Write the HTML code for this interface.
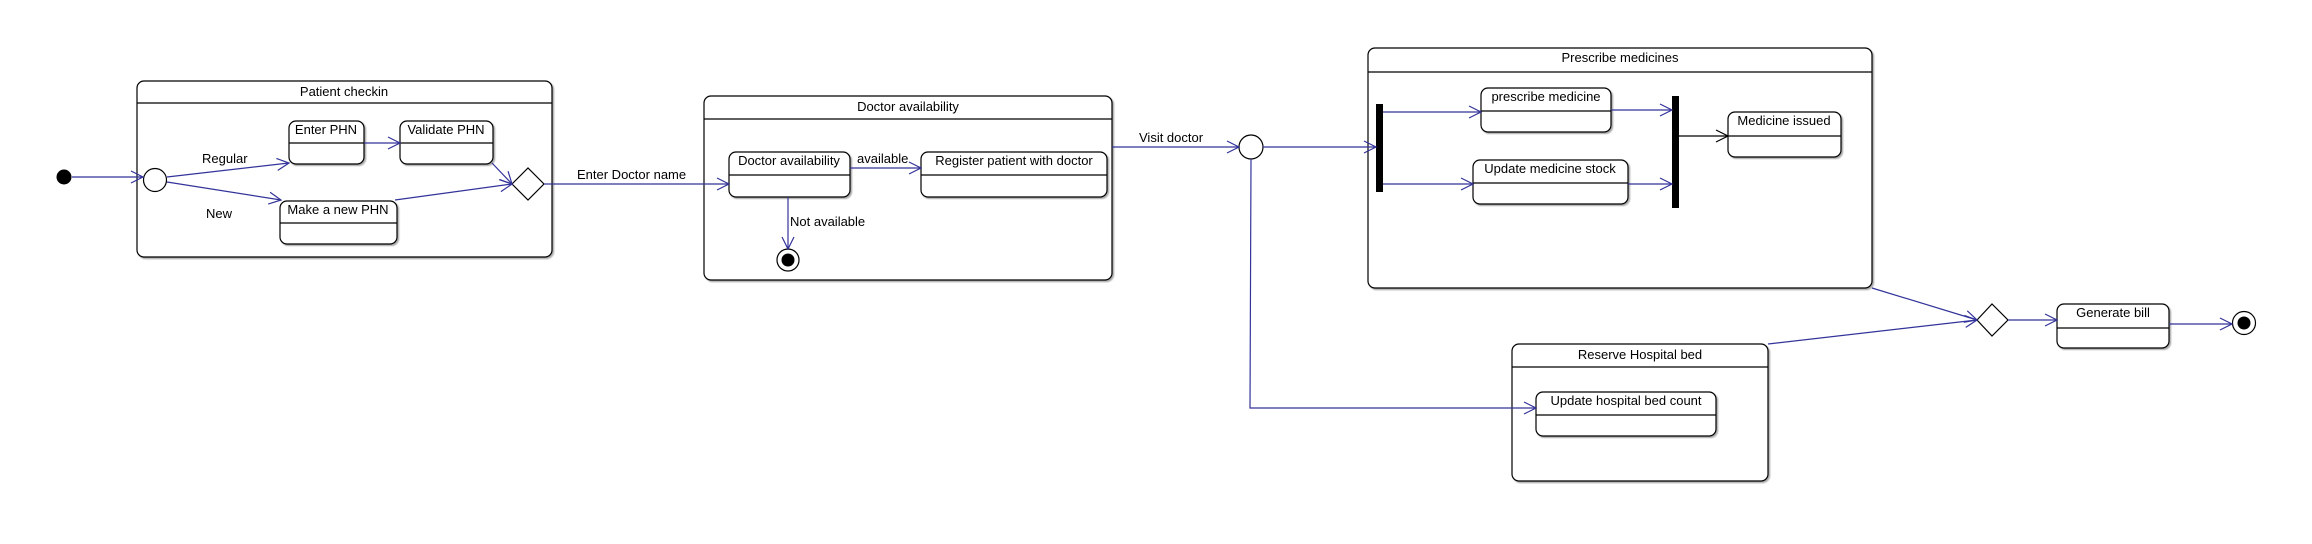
<!DOCTYPE html>
<html><head><meta charset="utf-8"><style>
html,body{margin:0;padding:0;background:#fff;}
svg{display:block;}
text{font-family:"Liberation Sans","DejaVu Sans",sans-serif;font-size:13px;fill:#000;}
.b{fill:#fff;stroke:#000;stroke-width:1.2;}
.l{stroke:#33339a;stroke-width:1.2;fill:none;}
.k{stroke:#000;stroke-width:1.2;fill:none;}
</style></head><body>
<svg width="2312" height="544" viewBox="0 0 2312 544" xmlns="http://www.w3.org/2000/svg">
<defs>
<marker id="a" markerUnits="userSpaceOnUse" markerWidth="16" markerHeight="14" refX="13" refY="7" orient="auto"><path d="M1,1 L13,7 L1,13" fill="none" stroke="#33339a" stroke-width="1.2"/></marker>
<marker id="ak" markerUnits="userSpaceOnUse" markerWidth="16" markerHeight="14" refX="13" refY="7" orient="auto"><path d="M1,1 L13,7 L1,13" fill="none" stroke="#000" stroke-width="1.2"/></marker>
<filter id="s" x="-5%" y="-5%" width="110%" height="110%"><feDropShadow dx="1.5" dy="1.5" stdDeviation="0.8" flood-color="#000" flood-opacity="0.35"/></filter>
</defs>

<!-- Patient checkin -->
<rect class="b" x="137" y="81" width="415" height="176" rx="7" filter="url(#s)"/>
<line class="k" x1="137" y1="103" x2="552" y2="103"/>
<text x="344" y="96" text-anchor="middle">Patient checkin</text>
<circle cx="64" cy="177" r="7.5" fill="#000"/>
<circle class="b" cx="155" cy="180" r="11.5"/>
<rect class="b" x="289" y="121" width="75" height="43" rx="7" filter="url(#s)"/>
<line class="k" x1="289" y1="143" x2="364" y2="143"/>
<text x="326" y="134" text-anchor="middle">Enter PHN</text>
<rect class="b" x="400" y="121" width="93" height="43" rx="7" filter="url(#s)"/>
<line class="k" x1="400" y1="143" x2="493" y2="143"/>
<text x="446" y="134" text-anchor="middle">Validate PHN</text>
<rect class="b" x="280" y="201" width="117" height="43" rx="7" filter="url(#s)"/>
<line class="k" x1="280" y1="223" x2="397" y2="223"/>
<text x="338" y="214" text-anchor="middle">Make a new PHN</text>
<polygon class="b" points="512,184 528,168 544,184 528,200"/>
<text x="202" y="163">Regular</text>
<text x="206" y="218">New</text>

<!-- Doctor availability -->
<rect class="b" x="704" y="96" width="408" height="184" rx="7" filter="url(#s)"/>
<line class="k" x1="704" y1="119" x2="1112" y2="119"/>
<text x="908" y="111" text-anchor="middle">Doctor availability</text>
<rect class="b" x="729" y="152" width="121" height="45" rx="7" filter="url(#s)"/>
<line class="k" x1="729" y1="175" x2="850" y2="175"/>
<text x="789" y="165" text-anchor="middle">Doctor availability</text>
<rect class="b" x="921" y="152" width="186" height="45" rx="7" filter="url(#s)"/>
<line class="k" x1="921" y1="175" x2="1107" y2="175"/>
<text x="1014" y="165" text-anchor="middle">Register patient with doctor</text>
<text x="857" y="163">available</text>
<text x="790" y="226">Not available</text>
<circle class="b" cx="788" cy="260" r="11"/>
<circle cx="788" cy="260" r="6.5" fill="#000"/>
<text x="577" y="179">Enter Doctor name</text>
<text x="1139" y="142">Visit doctor</text>
<circle class="b" cx="1251" cy="147" r="12"/>

<!-- Prescribe medicines -->
<rect class="b" x="1368" y="48" width="504" height="240" rx="7" filter="url(#s)"/>
<line class="k" x1="1368" y1="72" x2="1872" y2="72"/>
<text x="1620" y="62" text-anchor="middle">Prescribe medicines</text>
<rect x="1376" y="104" width="7" height="88" fill="#000"/>
<rect x="1672" y="96" width="7" height="112" fill="#000"/>
<rect class="b" x="1481" y="88" width="130" height="44" rx="7" filter="url(#s)"/>
<line class="k" x1="1481" y1="111" x2="1611" y2="111"/>
<text x="1546" y="101" text-anchor="middle">prescribe medicine</text>
<rect class="b" x="1473" y="160" width="155" height="44" rx="7" filter="url(#s)"/>
<line class="k" x1="1473" y1="183" x2="1628" y2="183"/>
<text x="1550" y="173" text-anchor="middle">Update medicine stock</text>
<rect class="b" x="1728" y="112" width="113" height="45" rx="7" filter="url(#s)"/>
<line class="k" x1="1728" y1="136" x2="1841" y2="136"/>
<text x="1784" y="125" text-anchor="middle">Medicine issued</text>

<!-- Reserve Hospital bed -->
<rect class="b" x="1512" y="344" width="256" height="137" rx="7" filter="url(#s)"/>
<line class="k" x1="1512" y1="367" x2="1768" y2="367"/>
<text x="1640" y="359" text-anchor="middle">Reserve Hospital bed</text>
<rect class="b" x="1536" y="392" width="180" height="44" rx="7" filter="url(#s)"/>
<line class="k" x1="1536" y1="415" x2="1716" y2="415"/>
<text x="1626" y="405" text-anchor="middle">Update hospital bed count</text>

<polygon class="b" points="1977,320 1992,304 2008,320 1992,336"/>
<rect class="b" x="2057" y="304" width="112" height="44" rx="7" filter="url(#s)"/>
<line class="k" x1="2057" y1="328" x2="2169" y2="328"/>
<text x="2113" y="317" text-anchor="middle">Generate bill</text>
<circle class="b" cx="2244" cy="323" r="11.5"/>
<circle cx="2244" cy="323" r="6.5" fill="#000"/>

<!-- connectors (on top) -->
<line class="l" x1="72" y1="177" x2="143" y2="177" marker-end="url(#a)"/>
<line class="l" x1="167" y1="177" x2="289" y2="163" marker-end="url(#a)"/>
<line class="l" x1="167" y1="182" x2="281" y2="200" marker-end="url(#a)"/>
<line class="l" x1="364" y1="143" x2="400" y2="143" marker-end="url(#a)"/>
<line class="l" x1="492" y1="163" x2="512" y2="184" marker-end="url(#a)"/>
<line class="l" x1="395" y1="200" x2="512" y2="184" marker-end="url(#a)"/>
<line class="l" x1="544" y1="184" x2="729" y2="184" marker-end="url(#a)"/>
<line class="l" x1="850" y1="168" x2="921" y2="168" marker-end="url(#a)"/>
<line class="l" x1="788" y1="197" x2="788" y2="249" marker-end="url(#a)"/>
<line class="l" x1="1112" y1="147" x2="1239" y2="147" marker-end="url(#a)"/>
<polyline class="l" points="1251,159 1250,408 1536,408" marker-end="url(#a)"/>
<line class="l" x1="1263" y1="147" x2="1376" y2="147" marker-end="url(#a)"/>
<line class="l" x1="1383" y1="112" x2="1481" y2="112" marker-end="url(#a)"/>
<line class="l" x1="1383" y1="184" x2="1473" y2="184" marker-end="url(#a)"/>
<line class="l" x1="1611" y1="110" x2="1672" y2="110" marker-end="url(#a)"/>
<line class="l" x1="1628" y1="184" x2="1672" y2="184" marker-end="url(#a)"/>
<line class="k" x1="1679" y1="136" x2="1728" y2="136" marker-end="url(#ak)"/>
<line class="l" x1="1872" y1="288" x2="1977" y2="320" marker-end="url(#a)"/>
<line class="l" x1="1768" y1="344" x2="1977" y2="320" marker-end="url(#a)"/>
<line class="l" x1="2008" y1="320" x2="2057" y2="320" marker-end="url(#a)"/>
<line class="l" x1="2169" y1="324" x2="2232" y2="324" marker-end="url(#a)"/>
</svg>
</body></html>
